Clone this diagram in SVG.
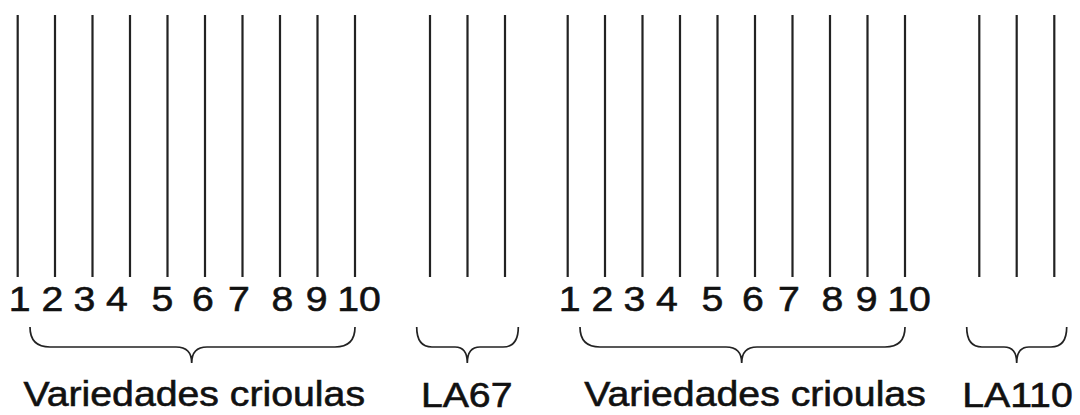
<svg xmlns="http://www.w3.org/2000/svg" width="1080" height="415" viewBox="0 0 1080 415">
<style>
.ln{stroke:#222;stroke-width:2.2;fill:none}
.br{stroke:#222;stroke-width:1.7;fill:none}
text{font-family:"Liberation Sans",Arial,sans-serif;font-size:36px;fill:#111;stroke:#111;stroke-width:0.6;text-anchor:middle}
</style>
<rect width="1080" height="415" fill="#fff"/>
<g id="connectors">
<g id="lines-group1">
<path class="ln" d="M17.7,15V277M55,15V277M92.5,15V277M130,15V277M167.5,15V277M205,15V277M242.5,15V277M280,15V277M317.5,15V277M355,15V277"/>
</g>
<g id="lines-la67">
<path class="ln" d="M430,15V277M467.5,15V277M505,15V277"/>
</g>
<g id="lines-group2">
<path class="ln" d="M567.7,15V277M605,15V277M642.5,15V277M680,15V277M717.5,15V277M755,15V277M792.5,15V277M830,15V277M867.5,15V277M905,15V277"/>
</g>
<g id="lines-la110">
<path class="ln" d="M979.3,15V277M1016.7,15V277M1054.3,15V277"/>
</g>
</g>
<g id="numbers1">
<text transform="translate(19.6,310.7) scale(1.09,1)">1</text>
<text transform="translate(52.5,310.7) scale(1.09,1)">2</text>
<text transform="translate(84.5,310.7) scale(1.09,1)">3</text>
<text transform="translate(117,310.7) scale(1.09,1)">4</text>
<text transform="translate(162.5,310.7) scale(1.09,1)">5</text>
<text transform="translate(203,310.7) scale(1.09,1)">6</text>
<text transform="translate(239,310.7) scale(1.09,1)">7</text>
<text transform="translate(282.5,310.7) scale(1.09,1)">8</text>
<text transform="translate(316.7,310.7) scale(1.09,1)">9</text>
<text transform="translate(359,310.7) scale(1.09,1)">10</text>
</g>
<g id="numbers2">
<text transform="translate(569.6,310.7) scale(1.09,1)">1</text>
<text transform="translate(602.5,310.7) scale(1.09,1)">2</text>
<text transform="translate(634.5,310.7) scale(1.09,1)">3</text>
<text transform="translate(667,310.7) scale(1.09,1)">4</text>
<text transform="translate(712.5,310.7) scale(1.09,1)">5</text>
<text transform="translate(753,310.7) scale(1.09,1)">6</text>
<text transform="translate(789,310.7) scale(1.09,1)">7</text>
<text transform="translate(832.5,310.7) scale(1.09,1)">8</text>
<text transform="translate(866.7,310.7) scale(1.09,1)">9</text>
<text transform="translate(909,310.7) scale(1.09,1)">10</text>
</g>
<g id="brace-variedades1">
<path class="br" d="M30,327Q30,347 50,347L176,347Q191.7,347 191.7,363Q191.7,347 207,347L335,347Q355,347 355,327"/>
<text transform="translate(194.2,405.5) scale(1.09,1)">Variedades crioulas</text>
</g>
<g id="brace-la67">
<path class="br" d="M416.7,327Q416.7,347 432,347L455,347Q467.3,347 467.3,363Q467.3,347 480,347L503,347Q518.3,347 518.3,327"/>
<text transform="translate(466.7,406.5) scale(1.09,1)">LA67</text>
</g>
<g id="brace-variedades2">
<path class="br" d="M580,327Q580,347 600,347L726,347Q741.7,347 741.7,363Q741.7,347 757,347L885,347Q905,347 905,327"/>
<text transform="translate(755,405.5) scale(1.09,1)">Variedades crioulas</text>
</g>
<g id="brace-la110">
<path class="br" d="M966.7,327Q966.7,347 982,347L1004,347Q1016.7,347 1016.7,363Q1016.7,347 1029,347L1051,347Q1066.7,347 1066.7,327"/>
<text transform="translate(1017.5,406.5) scale(1.09,1)">LA110</text>
</g>
</svg>
